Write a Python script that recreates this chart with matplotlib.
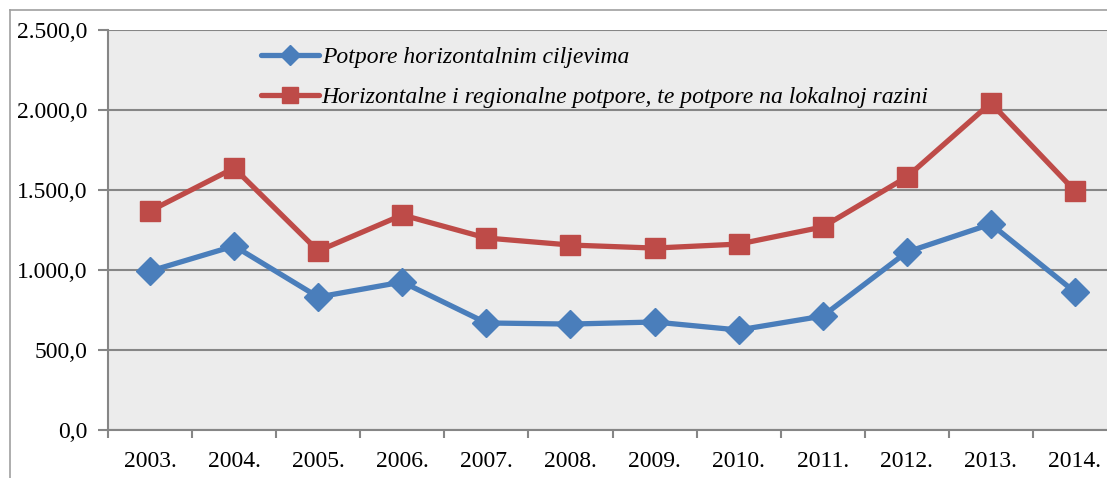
import matplotlib.pyplot as plt
import numpy as np
from matplotlib.lines import Line2D

years = ['2003.', '2004.', '2005.', '2006.', '2007.', '2008.',
         '2009.', '2010.', '2011.', '2012.', '2013.', '2014.']
horiz = [993, 1150, 831, 925, 669, 662, 675, 625, 712, 1112, 1287, 862]
horiz_reg = [1369, 1637, 1119, 1344, 1200, 1156, 1137, 1162, 1269, 1581, 2044, 1494]
yticks = [0, 500, 1000, 1500, 2000, 2500]
ytick_labels = ['0,0', '500,0', '1.000,0', '1.500,0', '2.000,0', '2.500,0']

plt.rcParams['font.family'] = 'Liberation Serif'

fig = plt.figure(figsize=(11.07, 4.78), dpi=100)
ax = fig.add_axes([108/1107, 48/478, 1009/1107, 400/478])
ax.set_facecolor('#ECECEC')

x = np.arange(len(years))
ax.plot(x, horiz, color='#4A7EBB', lw=3.8, marker='D', ms=14,
        label='Potpore horizontalnim ciljevima', solid_capstyle='round')
ax.plot(x, horiz_reg, color='#BE4B48', lw=3.8, marker='s', ms=15,
        label='Horizontalne i regionalne potpore, te potpore na lokalnoj razini',
        solid_capstyle='round')

ax.set_xlim(-0.5, len(years) - 0.5)
ax.set_ylim(0, 2500)
ax.set_yticks(yticks)
ax.set_yticklabels(ytick_labels, fontsize=17)
ax.set_xticks(x)
ax.set_xticklabels(years, fontsize=17)
ax.set_xticks(np.arange(len(years) + 1) - 0.5, minor=True)
ax.tick_params(axis='x', which='major', length=0, pad=15)
ax.tick_params(axis='x', which='minor', length=6, color='#868686', width=1.5)
ax.tick_params(axis='y', length=7, color='#868686', width=1.5, pad=8)
ax.grid(axis='y', color='#868686', lw=1.5)
ax.set_axisbelow(True)
for s in ['top', 'right']:
    ax.spines[s].set_visible(False)
for s in ['left', 'bottom']:
    ax.spines[s].set_color('#868686')
    ax.spines[s].set_linewidth(1.5)

ax.legend(loc='upper left', bbox_to_anchor=(252/1107, 1 - 37/478),
          bbox_transform=fig.transFigure, frameon=False,
          prop={'style': 'italic', 'size': 17}, handlelength=2.45,
          handletextpad=0.1, labelspacing=0.78, borderaxespad=0,
          markerscale=0.75)

# outer frame of the chart area
fig.add_artist(Line2D([10/1107, 10/1107], [0, 1 - 10/478], color='#A0A0A0', lw=1.2))
fig.add_artist(Line2D([10/1107, 1], [1 - 10/478, 1 - 10/478], color='#A0A0A0', lw=1.2))

fig.savefig('out.png', dpi=100)
